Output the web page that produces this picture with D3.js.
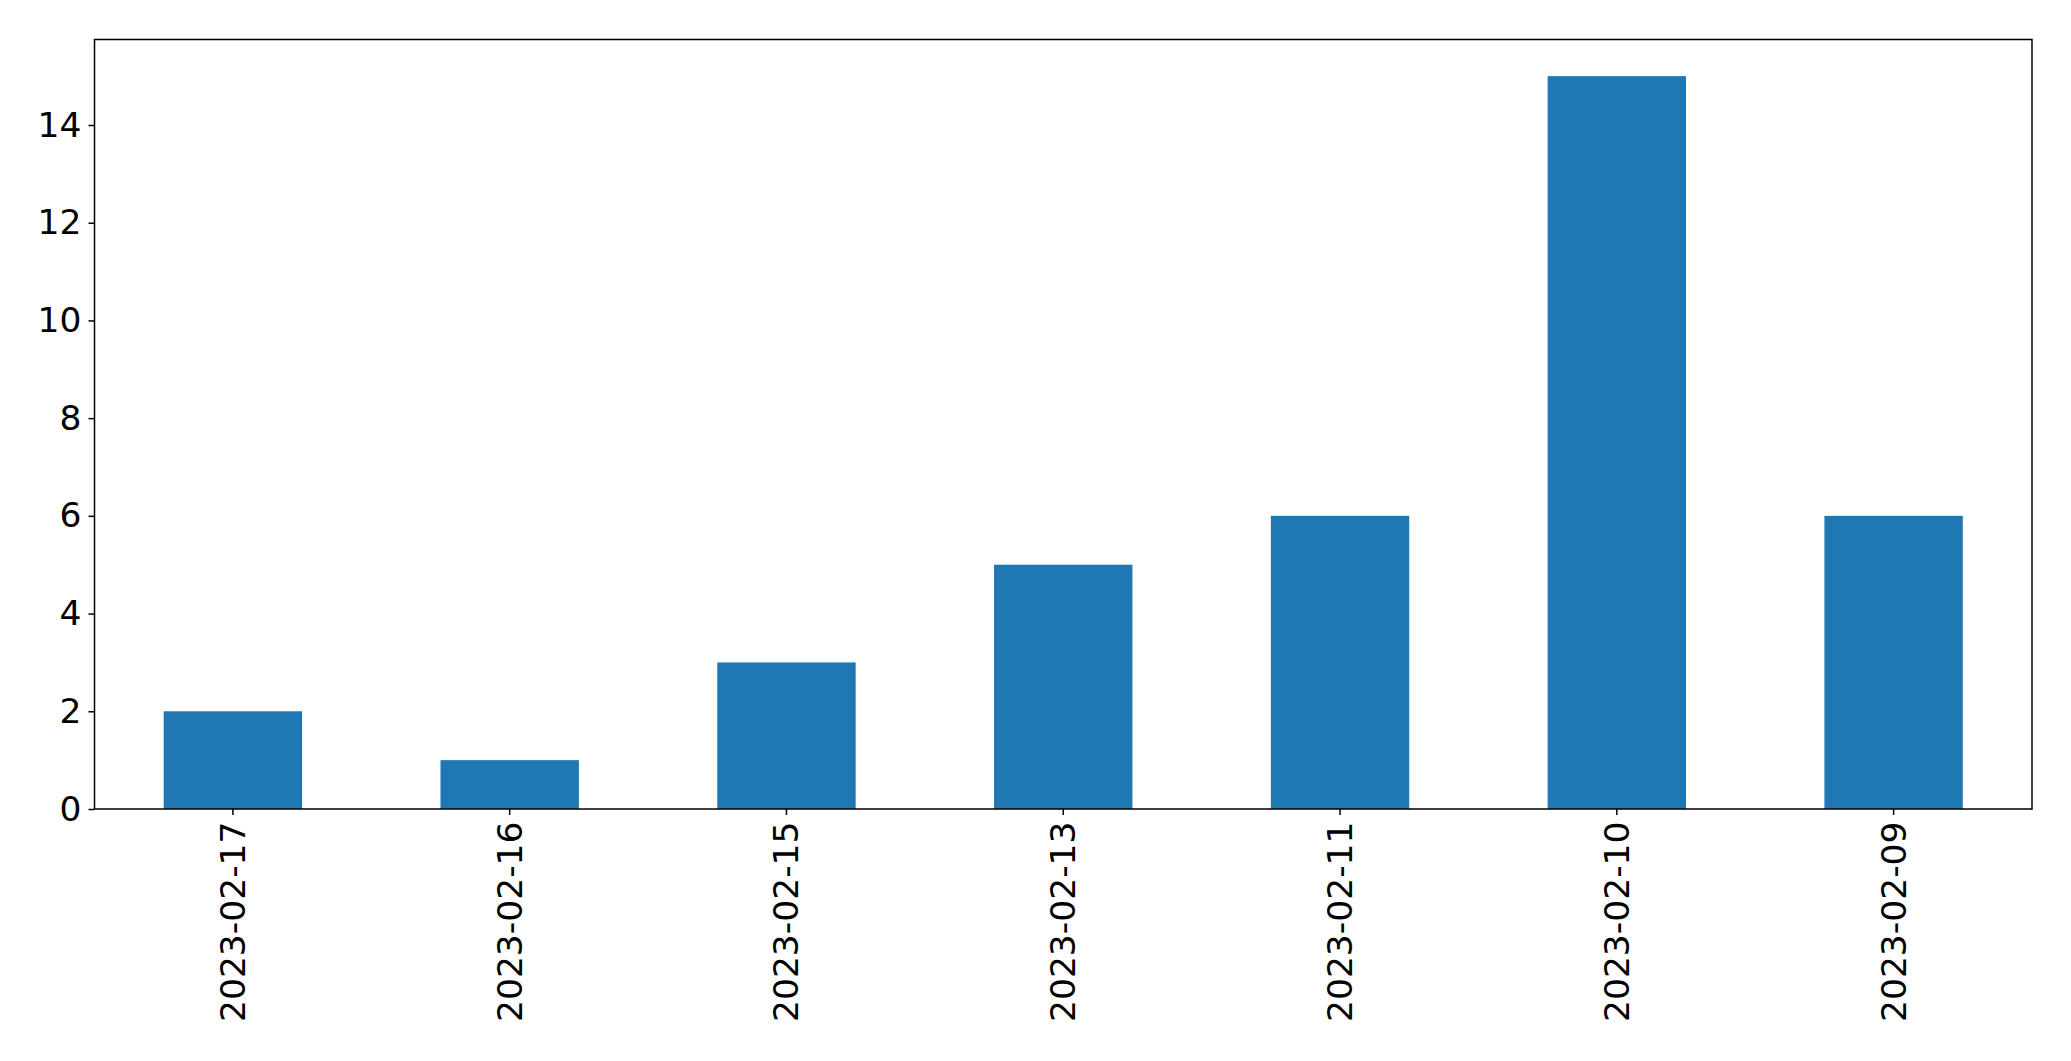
<!DOCTYPE html>
<html><head><meta charset="utf-8">
<script src="https://cdn.jsdelivr.net/npm/d3@7"></script>
<style>html,body{margin:0;padding:0;background:#fff;}svg{display:block;}</style>
</head><body>
<svg id="chart" width="2071" height="1061"></svg>
<script>
const categories = ["2023-02-17","2023-02-16","2023-02-15","2023-02-13","2023-02-11","2023-02-10","2023-02-09"];
const values = [2, 1, 3, 5, 6, 15, 6];
const yTicks = [0, 2, 4, 6, 8, 10, 12, 14];

const svg = d3.select("#chart");
const L = 94.5, R = 2032, T = 39.5, B = 809;
const font = "DejaVu Sans, sans-serif";
const fs = 34.5;

const x = d3.scaleBand().domain(categories).range([L, R]).paddingInner(0.5).paddingOuter(0.25);
const y = d3.scaleLinear().domain([0, d3.max(values) * 1.05]).range([B, T]);

svg.append("g").selectAll("rect").data(values).join("rect")
  .attr("x", (d, i) => x(categories[i]))
  .attr("width", x.bandwidth())
  .attr("y", d => y(d))
  .attr("height", d => y(0) - y(d))
  .attr("fill", "#1f77b4");

const yAxis = svg.append("g").attr("transform", `translate(${L},0)`)
  .call(d3.axisLeft(y).tickValues(yTicks).tickSize(6).tickPadding(7).tickFormat(d3.format("d")));
yAxis.select(".domain").remove();
yAxis.selectAll("line").attr("stroke", "#000").attr("stroke-width", 1.5);
yAxis.selectAll("text").attr("font-family", font).attr("font-size", fs).attr("fill", "#000");

const xAxis = svg.append("g").attr("transform", `translate(0,${B})`)
  .call(d3.axisBottom(x).tickSize(6).tickPadding(0));
xAxis.select(".domain").remove();
xAxis.selectAll("line").attr("stroke", "#000").attr("stroke-width", 1.5);
xAxis.selectAll("text")
  .attr("font-family", font).attr("font-size", fs).attr("fill", "#000")
  .attr("text-anchor", "end").attr("dy", null).attr("y", 0)
  .attr("dominant-baseline", "central")
  .attr("transform", "translate(0,12.5) rotate(-90)");

svg.append("rect").attr("x", L).attr("y", T).attr("width", R - L).attr("height", B - T)
  .attr("fill", "none").attr("stroke", "#000").attr("stroke-width", 1.5);
</script>
</body></html>
